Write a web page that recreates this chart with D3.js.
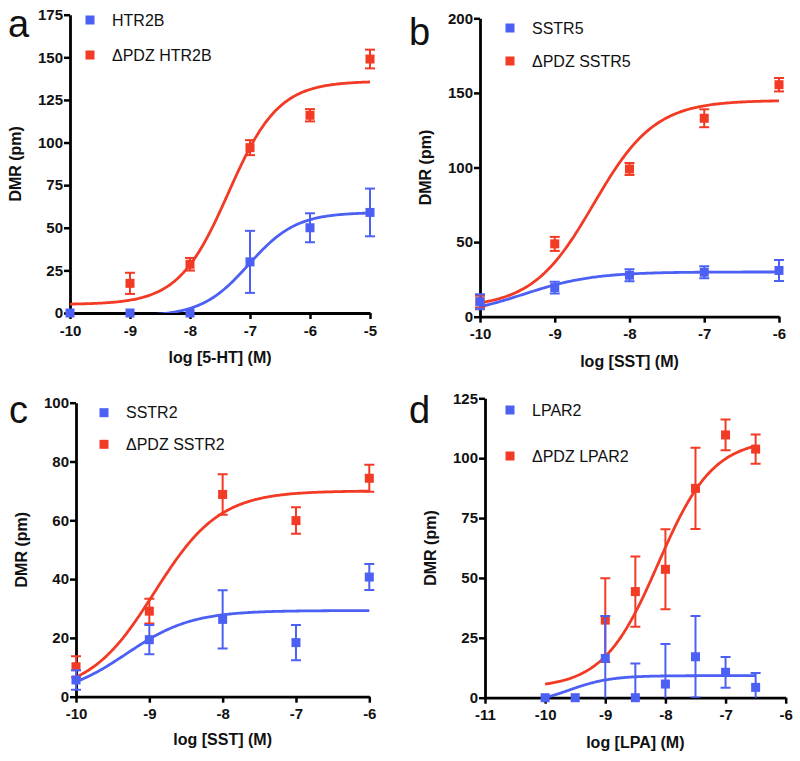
<!DOCTYPE html>
<html><head><meta charset="utf-8">
<script src="https://cdn.jsdelivr.net/npm/d3@7"></script>
<style>body{margin:0;background:#fff}svg{display:block}</style>
</head><body>
<svg id="chart" width="800" height="761"></svg>
<script>
const BLUE = "#4d60f4", RED = "#f23a25";
const FONT = "'Liberation Sans', Arial, Helvetica, sans-serif";

// ---------- Panel a ----------
const aLetter = "a";
const aSeries = ["HTR2B", "ΔPDZ HTR2B"];
const aXTitle = "log [5-HT] (M)";
const aYTitle = "DMR (pm)";
const aXTicks = [-10, -9, -8, -7, -6, -5];
const aYTicks = [0, 25, 50, 75, 100, 125, 150, 175];
const aBlueX = [-10, -9, -8, -7, -6, -5];
const aBlueY = [0, 0, 0, 30, 50, 59];
const aBlueErr = [0, 0, 0, 18.2, 8.5, 14];
const aRedX = [-9, -8, -7, -6, -5];
const aRedY = [17.4, 28.6, 97, 116, 149];
const aRedErr = [6.2, 3.7, 4.4, 3.6, 5.5];
// fit parameters: bottom, top, logEC50, hill slope
const aBlueFit = [-2, 59, -7.02, 1.1];
const aRedFit = [5, 136, -7.36, 1.04];

// ---------- Panel b ----------
const bLetter = "b";
const bSeries = ["SSTR5", "ΔPDZ SSTR5"];
const bXTitle = "log [SST] (M)";
const bYTitle = "DMR (pm)";
const bXTicks = [-10, -9, -8, -7, -6];
const bYTicks = [0, 50, 100, 150, 200];
const bBlueX = [-10, -9, -8, -7, -6];
const bBlueY = [10, 19.5, 27.8, 29.8, 31];
const bBlueErr = [5, 4, 4, 4, 7];
const bRedX = [-10, -9, -8, -7, -6];
const bRedY = [10, 48.8, 99, 133, 155.5];
const bRedErr = [4, 4.7, 4, 6, 4.5];
const bBlueFit = [0, 30, -9.42, 0.93];
const bRedFit = [6, 145, -8.48, 1.06];

// ---------- Panel c ----------
const cLetter = "c";
const cSeries = ["SSTR2", "ΔPDZ SSTR2"];
const cXTitle = "log [SST] (M)";
const cYTitle = "DMR (pm)";
const cXTicks = [-10, -9, -8, -7, -6];
const cYTicks = [0, 20, 40, 60, 80, 100];
const cBlueX = [-10, -9, -8, -7, -6];
const cBlueY = [5.7, 19.4, 26.3, 18.4, 40.7];
const cBlueErr = [3.3, 5, 9.9, 6, 4.4];
const cRedX = [-10, -9, -8, -7, -6];
const cRedY = [10.2, 29.1, 68.8, 59.9, 74.3];
const cRedErr = [3.6, 4.2, 6.9, 4.5, 4.6];
const cBlueFit = [0, 29.3, -9.31, 0.98];
const cRedFit = [1, 70, -8.93, 0.98];

// ---------- Panel d ----------
const dLetter = "d";
const dSeries = ["LPAR2", "ΔPDZ LPAR2"];
const dXTitle = "log [LPA] (M)";
const dYTitle = "DMR (pm)";
const dXTicks = [-11, -10, -9, -8, -7, -6];
const dYTicks = [0, 25, 50, 75, 100, 125];
const dBlueX = [-10, -9.5, -9, -8.5, -8, -7.5, -7, -6.5];
const dBlueY = [0, 0, 16.4, 0, 5.7, 17.1, 10.6, 4.3];
const dBlueErr = [0, 0, 17.7, 14.3, 16.7, 17, 6.4, 6];
const dRedX = [-9, -8.5, -8, -7.5, -7, -6.5];
const dRedY = [32.4, 44.3, 53.6, 87.4, 109.7, 103.8];
const dRedErr = [17.5, 14.7, 16.7, 17, 6.4, 6.1];
const dBlueFit = [-3, 9.2, -9.61, 1.25];
const dRedFit = [4, 108, -8.12, 0.95];

const svg = d3.select("#chart");
const defs = svg.append("defs");

function fourPL(p, x) {
  return p[0] + (p[1] - p[0]) / (1 + Math.pow(10, (p[2] - x) * p[3]));
}

function panel(cfg) {
  const g = svg.append("g");
  const x = d3.scaleLinear().domain(cfg.xDom).range([cfg.x0, cfg.x1]);
  const y = d3.scaleLinear().domain(cfg.yDom).range([cfg.y0, cfg.y1]);

  const clipId = "clip" + cfg.id;
  defs.append("clipPath").attr("id", clipId).append("rect")
    .attr("x", cfg.x0 - 20).attr("y", cfg.y1 - 20)
    .attr("width", cfg.x1 - cfg.x0 + 40).attr("height", cfg.y0 - cfg.y1 + 20);

  // axes
  const fmt = d => String(d);
  const yAxis = d3.axisLeft(y).tickValues(cfg.yTicks).tickFormat(fmt).tickSize(6).tickSizeOuter(0).tickPadding(1);
  const xAxis = d3.axisBottom(x).tickValues(cfg.xTicks).tickFormat(fmt).tickSize(6).tickSizeOuter(0).tickPadding(3);
  const ya = g.append("g").attr("transform", `translate(${cfg.x0},0)`).call(yAxis);
  const xa = g.append("g").attr("transform", `translate(0,${cfg.y0})`).call(xAxis);
  [ya, xa].forEach(a => {
    a.select(".domain").attr("stroke", "#000").attr("stroke-width", 2.8);
    a.selectAll(".tick line").attr("stroke", "#000").attr("stroke-width", 2.5);
    a.selectAll(".tick text").attr("fill", "#111").style("font-family", FONT)
      .style("font-weight", "bold").style("font-size", "15px");
  });
  xa.selectAll(".tick text").attr("dy", "0.9em");

  // titles
  g.append("text").attr("x", (cfg.x0 + cfg.x1) / 2).attr("y", cfg.y0 + cfg.xTitleDy)
    .attr("text-anchor", "middle").style("font-family", FONT).style("font-weight", "bold")
    .style("font-size", "16px").attr("fill", "#111").text(cfg.xTitle);
  g.append("text").attr("transform", `translate(${cfg.x0 - 49},${(cfg.y0 + cfg.y1) / 2}) rotate(-90)`)
    .attr("text-anchor", "middle").style("font-family", FONT).style("font-weight", "bold")
    .style("font-size", "16px").attr("fill", "#111").text(cfg.yTitle);
  g.append("text").attr("x", cfg.letterX).attr("y", cfg.letterY)
    .style("font-family", FONT).style("font-size", "38px").attr("fill", "#111").text(cfg.letter);

  // legend
  const colors = [BLUE, RED];
  cfg.series.forEach((s, i) => {
    const ly = cfg.legY[i];
    g.append("rect").attr("x", cfg.legX - 4.5).attr("y", ly - 4.5).attr("width", 9).attr("height", 9).attr("fill", colors[i]);
    g.append("text").attr("x", cfg.legX + 22).attr("y", ly).attr("dy", "0.36em")
      .style("font-family", FONT).style("font-size", "16px").attr("fill", "#111").text(s);
  });

  // data: red first, then blue on top
  const sets = [
    {xs: cfg.redX, ys: cfg.redY, es: cfg.redErr, fit: cfg.redFit, col: RED},
    {xs: cfg.blueX, ys: cfg.blueY, es: cfg.blueErr, fit: cfg.blueFit, col: BLUE}
  ];
  const clipped = g.append("g").attr("clip-path", `url(#${clipId})`);
  const line = d3.line().x(d => x(d[0])).y(d => y(d[1]));
  sets.forEach(s => {
    const pts = d3.range(cfg.curveDom[0], cfg.curveDom[1] + 1e-9, 0.02).map(v => [v, fourPL(s.fit, v)]);
    clipped.append("path").datum(pts).attr("d", line).attr("fill", "none")
      .attr("stroke", s.col).attr("stroke-width", 2.8);
  });
  sets.forEach(s => {
    const eg = g.append("g");
    const cg = eg.append("g").attr("clip-path", `url(#${clipId})`);
    s.xs.forEach((xv, i) => {
      const v = s.ys[i], e = s.es[i];
      if (e > 0) {
        const px = x(xv);
        cg.append("line").attr("x1", px).attr("x2", px).attr("y1", y(v - e)).attr("y2", y(v + e))
          .attr("stroke", s.col).attr("stroke-width", 2);
        [v - e, v + e].forEach(t => {
          cg.append("line").attr("x1", px - 5).attr("x2", px + 5).attr("y1", y(t)).attr("y2", y(t))
            .attr("stroke", s.col).attr("stroke-width", 2);
        });
      }
    });
    eg.selectAll("rect.m").data(s.xs.map((xv, i) => [xv, s.ys[i]])).join("rect")
      .attr("class", "m").attr("x", d => x(d[0]) - 4.5).attr("y", d => y(d[1]) - 4.5)
      .attr("width", 9).attr("height", 9).attr("fill", s.col);
  });
}

panel({id: "a", letter: aLetter, letterX: 8, letterY: 37, series: aSeries, xTitle: aXTitle, yTitle: aYTitle,
  xDom: [-10, -5], yDom: [0, 175], x0: 70, x1: 370, y0: 313, y1: 14.7, xTicks: aXTicks, yTicks: aYTicks,
  xTitleDy: 50, legX: 90, legY: [20, 55], curveDom: [-10, -5],
  blueX: aBlueX, blueY: aBlueY, blueErr: aBlueErr, blueFit: aBlueFit,
  redX: aRedX, redY: aRedY, redErr: aRedErr, redFit: aRedFit});

panel({id: "b", letter: bLetter, letterX: 409, letterY: 45, series: bSeries, xTitle: bXTitle, yTitle: bYTitle,
  xDom: [-10, -6], yDom: [0, 200], x0: 480, x1: 779, y0: 316.7, y1: 18.3, xTicks: bXTicks, yTicks: bYTicks,
  xTitleDy: 50, legX: 510, legY: [28, 61], curveDom: [-10, -6],
  blueX: bBlueX, blueY: bBlueY, blueErr: bBlueErr, blueFit: bBlueFit,
  redX: bRedX, redY: bRedY, redErr: bRedErr, redFit: bRedFit});

panel({id: "c", letter: cLetter, letterX: 9, letterY: 423, series: cSeries, xTitle: cXTitle, yTitle: cYTitle,
  xDom: [-10, -6], yDom: [0, 100], x0: 76, x1: 369.3, y0: 696.7, y1: 402.7, xTicks: cXTicks, yTicks: cYTicks,
  xTitleDy: 48, legX: 104, legY: [412.7, 444.3], curveDom: [-10, -6],
  blueX: cBlueX, blueY: cBlueY, blueErr: cBlueErr, blueFit: cBlueFit,
  redX: cRedX, redY: cRedY, redErr: cRedErr, redFit: cRedFit});

panel({id: "d", letter: dLetter, letterX: 409, letterY: 423, series: dSeries, xTitle: dXTitle, yTitle: dYTitle,
  xDom: [-11, -6], yDom: [0, 125], x0: 485, x1: 785.7, y0: 697.7, y1: 398.3, xTicks: dXTicks, yTicks: dYTicks,
  xTitleDy: 50, legX: 510, legY: [410, 456], curveDom: [-10, -6.5],
  blueX: dBlueX, blueY: dBlueY, blueErr: dBlueErr, blueFit: dBlueFit,
  redX: dRedX, redY: dRedY, redErr: dRedErr, redFit: dRedFit});
</script>
</body></html>
